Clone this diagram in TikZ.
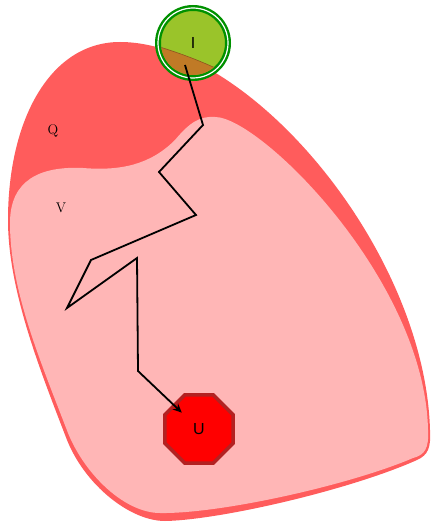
\documentclass[tikz,border=0pt]{standalone}
\usepackage{fontspec}
\newfontfamily\sansf{Liberation Sans}
\usetikzlibrary{shapes.geometric,arrows.meta}
\definecolor{outerred}{RGB}{255,92,92}
\definecolor{innerpink}{RGB}{255,182,182}
\definecolor{ygreen}{RGB}{154,196,42}
\definecolor{peruish}{RGB}{192,122,38}
\definecolor{brownline}{RGB}{140,85,30}
\definecolor{ringgreen}{RGB}{0,145,0}
\definecolor{firebr}{RGB}{178,34,34}
\begin{document}
\begin{tikzpicture}[x=1pt,y=-1pt,
  serlabel/.style={font=\fontsize{14}{16}\selectfont, inner sep=0pt},
  sanslabel/.style={font=\sansf\fontsize{16}{18}\selectfont},
  startnode/.style={circle, fill=ygreen, draw=ringgreen, line width=2.4pt, double=white, double distance=1.2pt, minimum size=70pt, inner sep=0pt, outer sep=0pt},
  endnode/.style={regular polygon, regular polygon sides=8, fill=red, draw=firebr, line width=3.5pt, minimum size=74pt, inner sep=0pt, outer sep=0pt},
  link/.style={line width=1.8pt, -{Stealth[length=9pt,width=8pt]}}
]
\useasboundingbox (0,0) rectangle (431,524);
% outer region
\fill[outerred] (8,220) .. controls (8,120) and (50,42) .. (120,42)
  .. controls (250,42) and (425,250) .. (430,430)
  .. controls (431,448) and (428,455) .. (417,460)
  .. controls (350,490) and (220,520) .. (165,521)
  .. controls (130,521) and (85,485) .. (67,440)
  .. controls (40,370) and (8,290) .. (8,220) -- cycle;
% inner region
\fill[innerpink] (10,223) .. controls (10,180) and (40,166) .. (83,168)
  .. controls (120,171) and (150,165) .. (175,140)
  .. controls (190,122) and (200,116) .. (215,117)
  .. controls (260,117) and (425,280) .. (428,430)
  .. controls (429,448) and (425,455) .. (413,458)
  .. controls (350,485) and (220,514) .. (160,513)
  .. controls (125,513) and (85,475) .. (68,433)
  .. controls (40,360) and (10,290) .. (10,223) -- cycle;
\node[serlabel] (Q) at (53,131) {Q};
\node[serlabel] (V) at (61,208) {V};
% start node
\node[startnode] (I) at (193,43) {};
\begin{scope}
 \clip (I.center) circle[radius=32];
 \fill[peruish] (150,44) .. controls (180,53) and (205,62) .. (238,79) -- (238,90) -- (150,90) -- cycle;
 \draw[brownline, line width=0.6pt] (150,44) .. controls (180,53) and (205,62) .. (238,79);
\end{scope}
\node[sanslabel] at (I.center) {I};
% end node
\node[endnode, sanslabel] (U) at (199,429) {U};
% connector
\coordinate (s) at (185,65);
\coordinate (p1) at (203,125);
\coordinate (p2) at (159,172);
\coordinate (p3) at (196,215);
\coordinate (p4) at (91,260);
\coordinate (p5) at (67,308);
\coordinate (p6) at (137,258);
\coordinate (p7) at (138,371);
\draw[link, shorten >=-10.5pt] (s) -- (p1) -- (p2) -- (p3) -- (p4) -- (p5) -- (p6) -- (p7) -- (U);
\end{tikzpicture}
\end{document}
